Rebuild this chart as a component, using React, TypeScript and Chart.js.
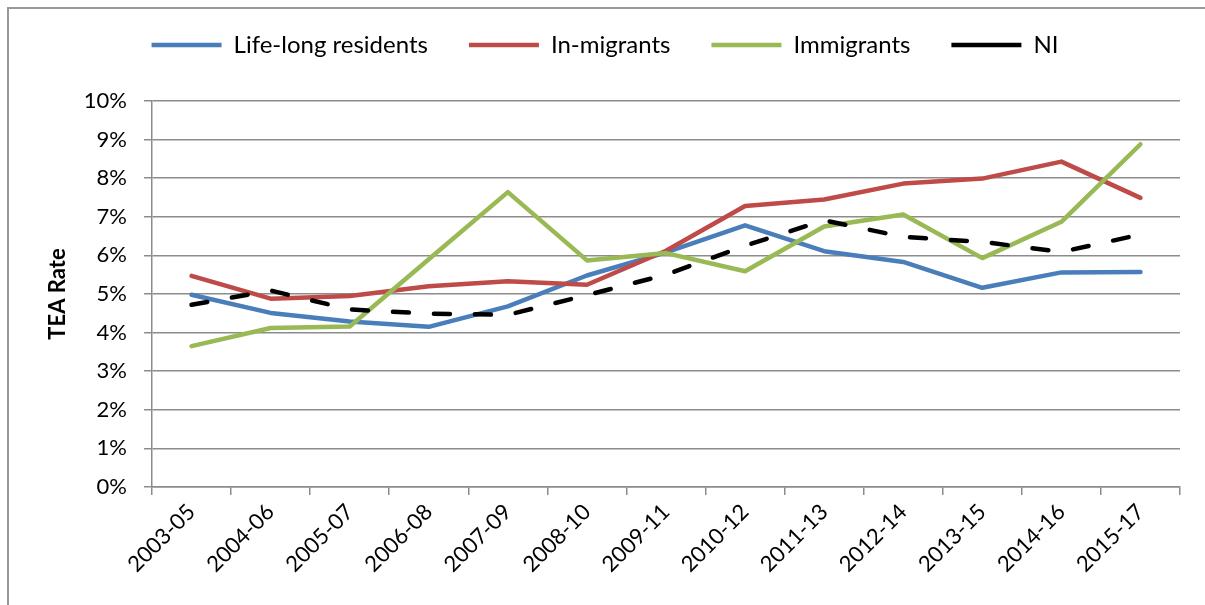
import React, { useEffect, useRef } from "react";
import { Chart, registerables } from "chart.js";

Chart.register(...registerables);

const categories = [
  "2003-05", "2004-06", "2005-07", "2006-08", "2007-09", "2008-10", "2009-11",
  "2010-12", "2011-13", "2012-14", "2013-15", "2014-16", "2015-17",
];
const lifeLong = [4.98, 4.51, 4.29, 4.15, 4.68, 5.48, 6.08, 6.78, 6.11, 5.83, 5.16, 5.56, 5.57];
const inMigrants = [5.47, 4.88, 4.95, 5.2, 5.33, 5.24, 6.12, 7.28, 7.45, 7.86, 7.99, 8.43, 7.49];
const immigrants = [3.65, 4.12, 4.16, 5.9, 7.64, 5.87, 6.06, 5.59, 6.75, 7.06, 5.93, 6.87, 8.88];
const ni = [4.72, 5.09, 4.6, 4.49, 4.46, 4.97, 5.5, 6.25, 6.91, 6.48, 6.35, 6.09, 6.54];
const yTicks = [0, 1, 2, 3, 4, 5, 6, 7, 8, 9, 10];

const FONT = "Lato, 'DejaVu Sans', sans-serif";
const GRID = "#8c8c8c";

const legendSpacer = {
  id: "legendSpacer",
  beforeLayout(chart: any) {
    const lg = chart.legend;
    if (lg && !lg.__patched) {
      const orig = lg.fit;
      lg.fit = function () {
        orig.call(this);
        this.height += 34;
      };
      lg.__patched = true;
    }
  },
};

export default function App() {
  const ref = useRef<HTMLCanvasElement>(null);
  useEffect(() => {
    if (!ref.current) return;
    const mk = (label: string, data: number[], color: string, order: number, dash?: number[]) => ({
      label,
      data,
      borderColor: color,
      backgroundColor: color,
      borderWidth: 4.5,
      borderCapStyle: "round" as const,
      borderJoinStyle: "round" as const,
      borderDash: dash || [],
      pointRadius: 0,
      pointHoverRadius: 0,
      tension: 0,
      fill: false,
      order,
    });
    const chart = new Chart(ref.current, {
      type: "line",
      data: {
        labels: categories,
        datasets: [
          mk("Life-long residents", lifeLong, "#4A7EBB", 3),
          mk("In-migrants", inMigrants, "#BE4B48", 2),
          mk("Immigrants", immigrants, "#98B954", 1),
          mk("NI", ni, "#000000", 0, [16, 25]),
        ],
      },
      options: {
        responsive: false,
        animation: false,
        layout: { padding: { top: -8, left: 30, right: 25, bottom: 0 } },
        plugins: {
          tooltip: { enabled: false },
          legend: {
            position: "top",
            labels: {
              usePointStyle: true,
              pointStyle: "line",
              pointStyleWidth: 70,
              padding: 41,
              color: "#000",
              font: { family: FONT, size: 24 },
              sort: (a: any, b: any) => a.datasetIndex - b.datasetIndex,
            },
          },
        },
        scales: {
          x: {
            type: "category",
            offset: true,
            grid: {
              offset: true,
              drawOnChartArea: false,
              drawTicks: true,
              tickLength: 8,
              color: GRID,
              lineWidth: 1.5,
            },
            border: { color: GRID, width: 1.5 },
            ticks: {
              minRotation: 45,
              maxRotation: 45,
              autoSkip: false,
              padding: 4,
              color: "#000",
              font: { family: FONT, size: 22 },
            },
            afterFit(scale: any) {
              scale.height = 118;
            },
          },
          y: {
            min: 0,
            max: 10,
            afterBuildTicks(scale: any) {
              scale.ticks = yTicks.map((v) => ({ value: v }));
            },
            grid: { color: GRID, lineWidth: 1.5, tickLength: 8 },
            border: { color: GRID, width: 1.5 },
            ticks: {
              padding: 17,
              color: "#000",
              font: { family: FONT, size: 22 },
              callback: (v: any) => v + "%",
            },
            title: {
              display: true,
              text: "TEA Rate",
              color: "#000",
              font: { family: FONT, size: 22, weight: "bold" },
              padding: { top: 15, bottom: 0 },
            },
            afterFit(scale: any) {
              scale.width = 122;
            },
          },
        },
      },
      plugins: [legendSpacer],
    });
    return () => chart.destroy();
  }, []);
  return (
    <div style={{ position: "absolute", left: 0, top: 0, width: 1205, height: 605, background: "#fff" }}>
      <div
        style={{
          position: "absolute",
          left: 7,
          top: 7,
          right: 0,
          bottom: 0,
          borderTop: "2px solid #999",
          borderLeft: "2px solid #999",
        }}
      />
      <canvas ref={ref} width={1205} height={605} style={{ position: "absolute", left: 0, top: 0 }} />
    </div>
  );
}
